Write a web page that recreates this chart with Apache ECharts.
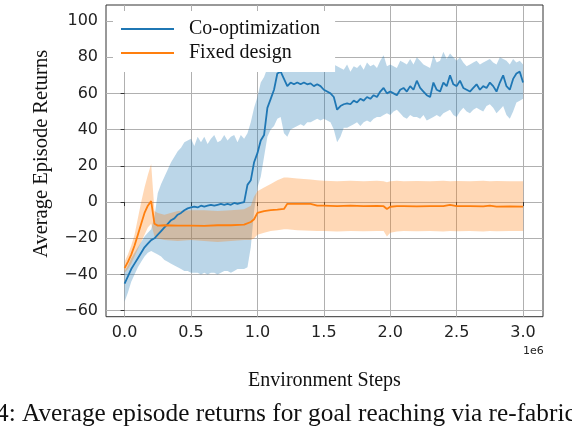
<!DOCTYPE html>
<html>
<head>
<meta charset="utf-8">
<script src="https://cdn.jsdelivr.net/npm/echarts@6/dist/echarts.min.js"></script>
<style>
html,body{margin:0;padding:0;background:#fff;}
#chart{width:572px;height:426px;}
</style>
</head>
<body>
<div id="chart"></div>
<script>
// ---------- data (x in 1e6 environment steps) ----------
const coSteps = [0,0.025,0.05,0.075,0.1,0.125,0.15,0.175,0.2,0.225,0.25,0.275,0.3,0.325,0.35,0.375,0.4,0.425,0.45,0.475,0.5,0.525,0.55,0.575,0.6,0.625,0.65,0.675,0.7,0.725,0.75,0.775,0.8,0.825,0.85,0.875,0.9,0.925,0.95,0.975,1.0,1.025,1.05,1.075,1.1,1.125,1.15,1.175,1.2,1.225,1.25,1.275,1.3,1.325,1.35,1.375,1.4,1.425,1.45,1.475,1.5,1.525,1.55,1.575,1.6,1.625,1.65,1.675,1.7,1.725,1.75,1.775,1.8,1.825,1.85,1.875,1.9,1.925,1.95,1.975,2.0,2.025,2.05,2.075,2.1,2.125,2.15,2.175,2.2,2.225,2.25,2.275,2.3,2.325,2.35,2.375,2.4,2.425,2.45,2.475,2.5,2.525,2.55,2.575,2.6,2.625,2.65,2.675,2.7,2.725,2.75,2.775,2.8,2.825,2.85,2.875,2.9,2.925,2.95,2.975,3.0];
const coMean = [-45,-41,-37,-34,-31,-28,-25,-23,-21,-20,-18,-16,-14,-12,-10,-9,-7,-6,-4.5,-3.5,-3,-2.5,-3,-2,-2.5,-2,-1.5,-2,-1.5,-1,-1.5,-1,-1.5,-0.5,-1,-0.5,0,9.5,12,22,27,34,37,52,57,62,71,72,68,64,66,65,66,65,66,65,65.5,64,65,64,62,61,60,58,51,53,54,54.5,54,56,55,57,56,58,57,59,58,61,63,60,61,60,59,62,63,61,64,62,67,63,61,59,58,66,62,61,66,64,70,65,64,67,63,62,61,63,65,62,64,63,66,64,61,66,70,64,62,68,71,72,66];
const coUpper = [-38,-35,-31,-28,-25,-22,-19,-17,-15,-8,5,10,14,18,22,25,28,30,33,34,35,31,36,33,36,32,35,37,33,34,37,34,36,37,33,37,35,38,44,52,58,66,69,74,78,80,82,80,80,79,80,79,80,80,80,79,80,79,80,79,78,77,77,76,75,74,73,76,72,75,74,76,73,77,75,76,74,78,81,75,76,75,74,78,77,76,79,76,80,78,76,75,74,81,77,78,83,79,82,80,78,80,77,75,76,77,78,76,77,78,79,77,76,80,79,78,76,79,77,78,76];
const coLower = [-55,-50,-44,-40,-36,-33,-30,-28,-27,-28,-29,-30,-32,-33,-34,-35,-36,-37,-38,-38,-39,-39,-39,-40,-39,-40,-39,-39,-40,-39,-38,-38,-39,-38,-37,-37,-37,-36,-25,-5,8,14,25,36,40,42,46,47,38,36,40,41,42,43,42,44,44,45,46,45,46,45,44,40,33,36,41,41,42,43,44,42,44,45,44,46,47,47,48,49,48,50,51,49,47,46,48,47,47,46,48,45,46,47,48,47,49,50,51,48,47,50,52,50,49,51,52,51,50,53,54,52,49,51,53,48,46,50,55,56,57];

const fxSteps = [0,0.025,0.05,0.075,0.1,0.125,0.15,0.175,0.2,0.225,0.25,0.3,0.4,0.5,0.6,0.7,0.8,0.9,0.95,0.975,1.0,1.05,1.1,1.15,1.2,1.225,1.3,1.4,1.45,1.5,1.6,1.7,1.8,1.9,1.95,1.975,2.0,2.05,2.1,2.2,2.3,2.4,2.45,2.5,2.6,2.7,2.75,2.8,2.9,3.0];
const fxMean = [-36.5,-33,-29,-24,-18,-12,-6,-2,0.5,-12,-13,-12.8,-13,-13,-13.2,-12.8,-12.8,-12.5,-11,-9.5,-6,-5,-4.5,-4.2,-3.8,-1,-1,-1,-2,-2,-2.2,-2,-2.2,-2.1,-2.3,-3.8,-2.6,-2.3,-2.2,-2.4,-2.2,-2.3,-1.6,-2.2,-2.3,-2.4,-2,-2.5,-2.4,-2.5];
const fxUpper = [-33,-29,-24,-18,-9,0,8,15,21,-5,-6,-7,-5,-4.5,-4.5,-5,-4.5,-4,-2,3,6,8,10,12,13.5,13.5,13,12.5,12,11.7,11.5,11.7,11.5,11.7,11.5,11,11.5,11.7,11.5,11.6,11.5,11.7,11.5,11.6,11.5,11.7,11.5,11.6,11.5,11.5];
const fxLower = [-39,-37,-34,-30,-26,-22,-18,-14,-12,-19,-20,-21,-21.5,-21,-21.5,-22,-21.5,-21,-21,-20,-18,-17,-16,-15.5,-15,-15,-15.5,-15.8,-16,-16,-16.2,-16,-16.1,-16,-16,-19,-17,-16.2,-16,-16.1,-16,-16.2,-16,-16.1,-16,-16.2,-16,-16.1,-16,-16];

const xTicks = [0,0.5,1.0,1.5,2.0,2.5,3.0];
const yTicks = [-60,-40,-20,0,20,40,60,80,100];
const seriesNames = ['Co-optimization','Fixed design'];
const caption = '4: Average episode returns for goal reaching via re-fabric';

// ---------- chart ----------
const BLUE = '#1f77b4', ORANGE = '#ff7f0e';
const SERIF = '"Liberation Serif","Times New Roman",serif';
const SANS = '"DejaVu Sans",sans-serif';

function zip(xs, ys){ return xs.map((x,i)=>[x, ys[i]]); }
function band(steps, upper, lower, fill){
  return {
    type:'custom', silent:true,
    data:[[steps[0], lower[0]]],
    renderItem:function(params, api){
      const pts=[];
      for(let i=0;i<steps.length;i++) pts.push(api.coord([steps[i], upper[i]]));
      for(let i=steps.length-1;i>=0;i--) pts.push(api.coord([steps[i], lower[i]]));
      return {type:'polygon', shape:{points:pts}, style:{fill:fill}};
    }
  };
}
const minus = v => String(v).replace('-', '\u2212');

const chart = echarts.init(document.getElementById('chart'), null, {renderer:'canvas'});
chart.setOption({
  animation:false,
  backgroundColor:'#fff',
  grid:{left:106, right:29, top:5, bottom:109.3, show:true, borderColor:'#333', borderWidth:1, backgroundColor:'transparent'},
  xAxis:{
    type:'value', min:-0.14, max:3.15,
    name:'Environment Steps', nameLocation:'middle', nameGap:54,
    nameTextStyle:{fontFamily:SERIF, fontSize:20, color:'#111'},
    axisLine:{show:false},
    axisTick:{show:true, length:4, customValues:xTicks, lineStyle:{color:'#333', width:1}},
    axisLabel:{customValues:xTicks, margin:8, fontFamily:SANS, fontSize:16, color:'#222', formatter:v=>Number(v).toFixed(1)},
    splitLine:{show:true, lineStyle:{color:'#b0b0b0', width:1}}
  },
  yAxis:{
    type:'value', min:-63.3, max:108.8,
    name:'Average Episode Returns', nameLocation:'middle', nameGap:54, nameRotate:90,
    nameTextStyle:{fontFamily:SERIF, fontSize:20.5, color:'#111', padding:[0,0,0,14]},
    axisLine:{show:false},
    axisTick:{show:true, length:4, customValues:yTicks, lineStyle:{color:'#333', width:1}},
    axisLabel:{customValues:yTicks, margin:8, fontFamily:SANS, fontSize:16, color:'#222', formatter:v=>minus(Math.round(v))},
    splitLine:{show:true, lineStyle:{color:'#b0b0b0', width:1}}
  },
  legend:{
    data:seriesNames, orient:'vertical', left:113, top:11,
    padding:[8,15,9,8], backgroundColor:'#ffffff',
    icon:'rect', itemWidth:53, itemHeight:2, itemGap:4,
    textStyle:{fontFamily:SERIF, fontSize:20, lineHeight:20, color:'#111', padding:[0,0,0,10]}
  },
  series:[
    band(coSteps, coUpper, coLower, 'rgba(31,119,180,0.3)'),
    {type:'line', name:seriesNames[0], data:zip(coSteps, coMean), showSymbol:false, symbol:'none',
     lineStyle:{color:BLUE, width:1.8}, itemStyle:{color:BLUE}},
    band(fxSteps, fxUpper, fxLower, 'rgba(255,127,14,0.3)'),
    {type:'line', name:seriesNames[1], data:zip(fxSteps, fxMean), showSymbol:false, symbol:'none',
     lineStyle:{color:ORANGE, width:1.8}, itemStyle:{color:ORANGE}}
  ],
  graphic:[
    {type:'text', left:523, top:346, style:{text:'1e6', fontFamily:SANS, fontSize:11, fill:'#222'}},
    {type:'text', x:-4, y:414.5, style:{text:caption, fontFamily:SERIF, fontSize:25.3, fill:'#111', verticalAlign:'middle'}}
  ]
});
</script>
</body>
</html>
